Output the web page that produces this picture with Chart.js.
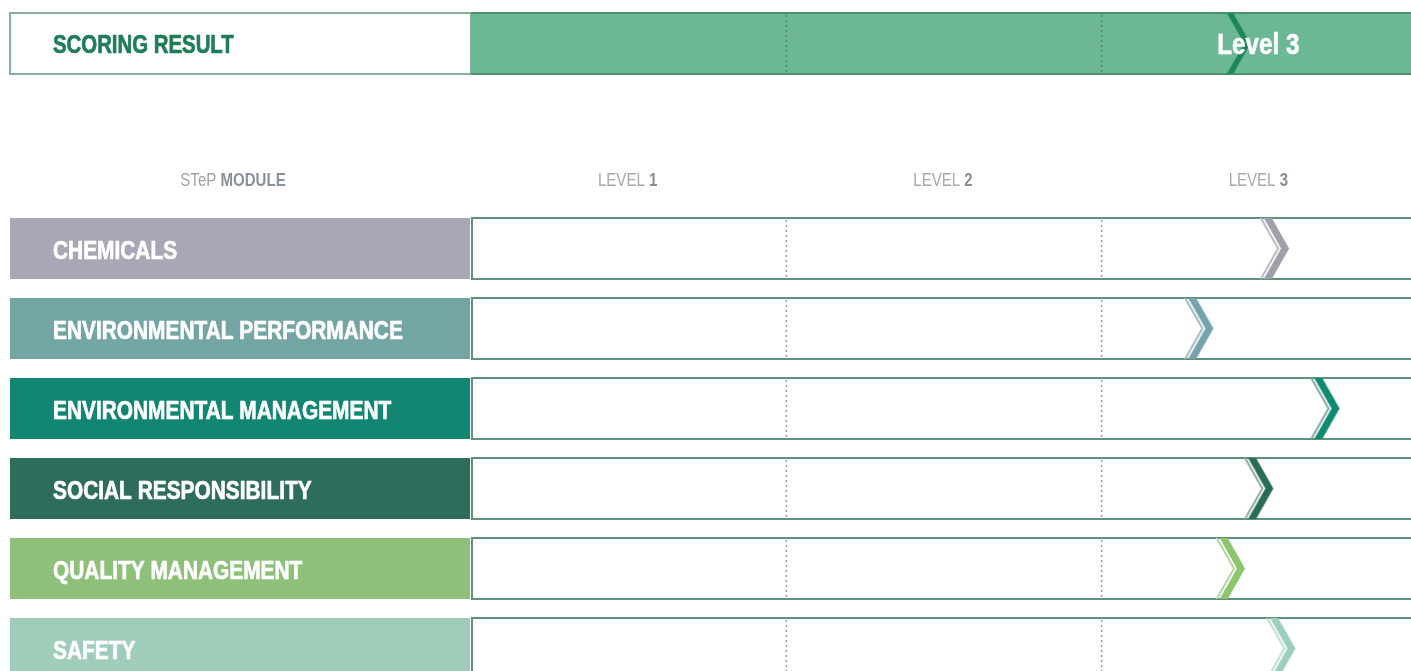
<!DOCTYPE html>
<html><head><meta charset="utf-8">
<script src="https://cdn.jsdelivr.net/npm/chart.js@4.4.1/dist/chart.umd.min.js"></script>
<style>
html,body{margin:0;padding:0;overflow:hidden;background:#fff;width:1411px;height:671px}
#ca{position:absolute;left:0;top:0}
#cb{position:absolute;left:0;top:150px}
</style></head><body>
<canvas id="ca" width="1417" height="90"></canvas>
<canvas id="cb" width="1417" height="545"></canvas>
<script>
// ---- data ----
const resultLabel = ['SCORING RESULT'];
const resultValue = [2.43];
const resultText = 'Level 3';
const resultLevel = 3;
const modules = ['CHEMICALS','ENVIRONMENTAL PERFORMANCE','ENVIRONMENTAL MANAGEMENT','SOCIAL RESPONSIBILITY','QUALITY MANAGEMENT','SAFETY'];
const moduleScores = [2.55, 2.31, 2.71, 2.50, 2.41, 2.57];
const levelTicks = [1, 2, 3];
const levelNames = ['LEVEL 1', 'LEVEL 2', 'LEVEL 3'];
const headerParts = ['STeP', 'MODULE'];

// ---- styles ----
const FONT = '"Liberation Sans","Arimo",Arial,sans-serif';
const moduleColors = ['#a9a6b6','#72a5a3','#128672','#2e6c5b','#8ec079','#9fcdb9'];
const chevronColors = ['#a0a0ab','#74a3ac','#0f8a70','#2a6b57','#8cc56c','#9ccfba'];
const thinColors = ['#b9b9c2','#9fb8bc','#7fa89c','#8aa69b','#b4d4a4','#b9ddd0'];
const ROW_H = 61;

// draw horizontally-condensed text; returns drawn width
function condText(ctx, text, x, y, font, sx, align, color, heavy) {
  ctx.save();
  ctx.font = font; ctx.fillStyle = color;
  ctx.textBaseline = 'middle'; ctx.textAlign = 'left';
  const w = ctx.measureText(text).width * sx;
  let x0 = x;
  if (align === 'center') x0 = x - w / 2;
  else if (align === 'right') x0 = x - w;
  ctx.translate(x0, y); ctx.scale(sx, 1);
  ctx.fillText(text, 0, 0);
  if (heavy) { ctx.strokeStyle = color; ctx.lineWidth = heavy; ctx.lineJoin = 'round'; ctx.strokeText(text, 0, 0); }
  ctx.restore();
  return w;
}
function textWidth(ctx, text, font, sx) {
  ctx.save(); ctx.font = font; const w = ctx.measureText(text).width * sx; ctx.restore(); return w;
}

function chevron(color, thin, h, lw) {
  const c = document.createElement('canvas');
  const w = 40; c.width = w; c.height = h;
  const g = c.getContext('2d');
  g.lineJoin = 'miter'; g.lineCap = 'butt';
  const cx = w / 2;
  if (thin) {
    g.strokeStyle = thin; g.lineWidth = 2;
    g.beginPath(); g.moveTo(cx - 16, -3); g.lineTo(cx + 3, h / 2); g.lineTo(cx - 16, h + 3); g.stroke();
  }
  g.strokeStyle = color; g.lineWidth = lw;
  g.beginPath(); g.moveTo(cx - 9, -3); g.lineTo(cx + 10, h / 2); g.lineTo(cx - 9, h + 3); g.stroke();
  return c;
}
const moduleChevrons = chevronColors.map((c, i) => chevron(c, thinColors[i], ROW_H, 7));
const resultChevrons = [chevron('#1c8656', null, ROW_H, 5.5)];

const baseOpts = {
  responsive: false, animation: false, events: [],
  plugins: { legend: { display: false }, tooltip: { enabled: false } }
};
const LABEL_FONT = 'bold 25px ' + FONT, LABEL_SX = 0.835;

// ---- Chart A: scoring result ----
const scorePlugin = {
  id: 'score',
  beforeDatasetsDraw(chart) {
    const { ctx, chartArea: a, scales: { x, y } } = chart;
    const cy = y.getPixelForValue(0);
    const top = cy - ROW_H / 2, bot = cy + ROW_H / 2;
    ctx.save();
    ctx.fillStyle = '#fff';
    ctx.fillRect(10, top, x.left - 10, ROW_H);
    ctx.strokeStyle = '#86b09c'; ctx.lineWidth = 2;
    ctx.strokeRect(10, top, x.left - 10, ROW_H);
    ctx.fillStyle = '#6cb794';
    ctx.fillRect(x.left, top, a.right - x.left, ROW_H);
    ctx.strokeStyle = '#4f8f72'; ctx.lineWidth = 2;
    ctx.beginPath(); ctx.moveTo(x.left, top); ctx.lineTo(a.right, top);
    ctx.moveTo(x.left, bot); ctx.lineTo(a.right, bot); ctx.stroke();
    ctx.setLineDash([2, 3]); ctx.strokeStyle = '#4d8a6c'; ctx.lineWidth = 1.5;
    levelTicks.slice(0, -1).forEach(t => {
      const px = x.getPixelForValue(t);
      ctx.beginPath(); ctx.moveTo(px, top + 2); ctx.lineTo(px, bot - 2); ctx.stroke();
    });
    ctx.restore();
    condText(ctx, resultLabel[0], 53, cy + 3, LABEL_FONT, 0.815, 'left', '#1f7d57', 0.7);
  },
  afterDatasetsDraw(chart) {
    const { ctx, scales: { x, y } } = chart;
    const cy = y.getPixelForValue(0);
    condText(ctx, resultText, x.getPixelForValue(resultLevel - 0.5) - 1, cy + 2, 'bold 30px ' + FONT, 0.81, 'center', '#ffffff', 0.6);
  }
};

new Chart(document.getElementById('ca'), {
  type: 'scatter',
  data: {
    labels: resultLabel,
    datasets: [{
      data: resultValue.map((v, i) => ({ x: v, y: resultLabel[i] })),
      pointStyle: ctx => resultChevrons[ctx.dataIndex] || resultChevrons[0],
      pointRadius: 10, clip: false
    }]
  },
  options: Object.assign({}, baseOpts, {
    layout: { autoPadding: false, padding: { left: 471, right: 0, top: 13, bottom: 16 } },
    scales: {
      x: { type: 'linear', min: 0, max: levelTicks[levelTicks.length - 1], display: false },
      y: { type: 'category', labels: resultLabel, offset: true, display: false }
    }
  }),
  plugins: [scorePlugin]
});

// ---- Chart B: modules ----
const rowsPlugin = {
  id: 'rows',
  beforeDatasetsDraw(chart) {
    const { ctx, chartArea: a, scales: { x, y } } = chart;
    modules.forEach((m, i) => {
      const cy = y.getPixelForValue(i);
      const top = cy - ROW_H / 2, bot = cy + ROW_H / 2;
      ctx.save();
      ctx.fillStyle = moduleColors[i];
      ctx.fillRect(10, top, x.left - 11, ROW_H);
      ctx.strokeStyle = '#5f917b'; ctx.lineWidth = 2;
      ctx.beginPath();
      ctx.moveTo(x.left, top); ctx.lineTo(a.right, top);
      ctx.moveTo(x.left, bot); ctx.lineTo(a.right, bot);
      ctx.moveTo(x.left + 1, top); ctx.lineTo(x.left + 1, bot);
      ctx.stroke();
      ctx.setLineDash([2, 3]); ctx.strokeStyle = '#9a9a9a'; ctx.lineWidth = 1.5;
      levelTicks.slice(0, -1).forEach(t => {
        const px = x.getPixelForValue(t);
        ctx.beginPath(); ctx.moveTo(px, top + 2); ctx.lineTo(px, bot - 2); ctx.stroke();
      });
      ctx.restore();
      condText(ctx, m, 53, cy + 3.5, LABEL_FONT, LABEL_SX, 'left', '#ffffff', 0.7);
    });
    // header row
    const hy = 31;
    const f1 = '17.5px ' + FONT, f2 = 'bold 17.5px ' + FONT, hs = 0.86;
    const w1 = textWidth(ctx, headerParts[0] + ' ', f1, hs);
    const w2 = textWidth(ctx, headerParts[1], f2, hs);
    const sx = 233 - (w1 + w2) / 2;
    condText(ctx, headerParts[0] + ' ', sx, hy, f1, hs, 'left', '#a2a2a2');
    condText(ctx, headerParts[1], sx + w1, hy, f2, hs, 'left', '#88909a');
    levelTicks.forEach((t, i) => {
      const name = levelNames[i];
      const k = name.lastIndexOf(' ');
      const p1 = name.slice(0, k + 1), p2 = name.slice(k + 1);
      const a1 = textWidth(ctx, p1, f1, hs), a2 = textWidth(ctx, p2, f2, hs);
      const cx = x.getPixelForValue(t - 0.5) - 1;
      const s = cx - (a1 + a2) / 2;
      condText(ctx, p1, s, hy, f1, hs, 'left', '#a8a8a8');
      condText(ctx, p2, s + a1, hy, f2, hs, 'left', '#8a8f94');
    });
  }
};

new Chart(document.getElementById('cb'), {
  type: 'scatter',
  data: {
    labels: modules,
    datasets: [{
      data: moduleScores.map((v, i) => ({ x: v, y: modules[i] })),
      pointStyle: ctx => moduleChevrons[ctx.dataIndex] || moduleChevrons[0],
      pointRadius: 10, clip: false
    }]
  },
  options: Object.assign({}, baseOpts, {
    layout: { autoPadding: false, padding: { left: 471, right: 0, top: 58.5, bottom: 6.5 } },
    scales: {
      x: { type: 'linear', min: 0, max: levelTicks[levelTicks.length - 1], display: false },
      y: { type: 'category', labels: modules, offset: true, display: false }
    }
  }),
  plugins: [rowsPlugin]
});
</script>
</body></html>
